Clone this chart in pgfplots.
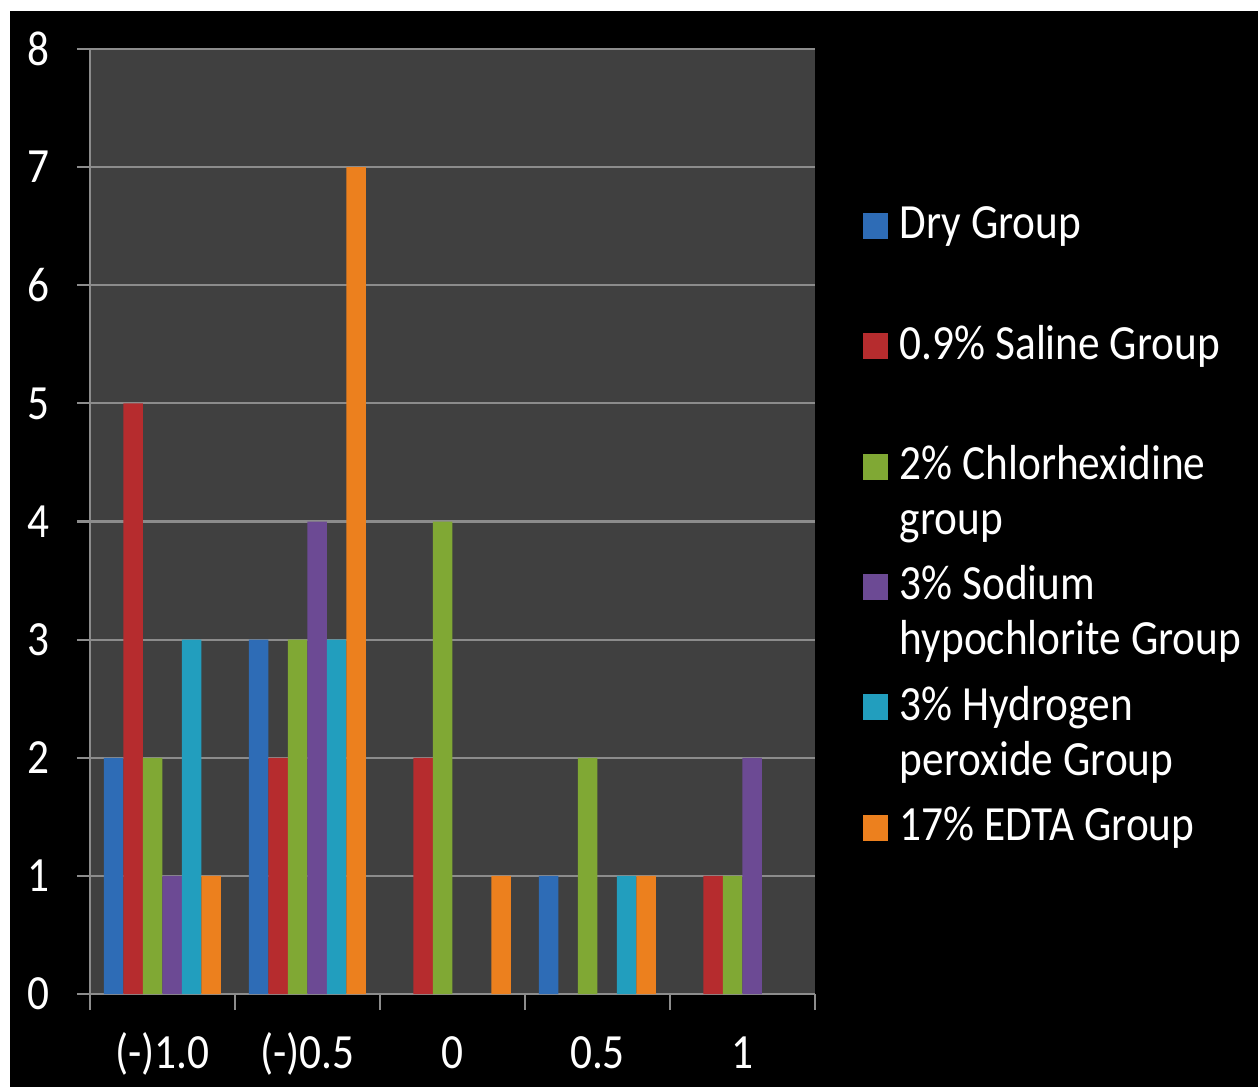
\documentclass[border=0pt]{standalone}
\usepackage{fontspec}
\setmainfont{Carlito}[FakeStretch=0.88]
\usepackage{pgfplots}
\pgfplotsset{compat=1.18}

\definecolor{plotbg}{RGB}{64,64,64}
\definecolor{gridc}{RGB}{140,140,140}
\definecolor{cDry}{RGB}{46,108,182}
\definecolor{cSal}{RGB}{182,44,46}
\definecolor{cChl}{RGB}{128,168,52}
\definecolor{cSod}{RGB}{108,74,148}
\definecolor{cHyd}{RGB}{34,158,190}
\definecolor{cEdt}{RGB}{236,128,30}

% legend texts as top-aligned tabulars, so every row has the same height
\newcommand{\oneline}[1]{\begin{tabular}[t]{@{}l@{}}#1\end{tabular}}
\newcommand{\twoline}[2]{\begin{tabular}[t]{@{}l@{}}#1\\#2\end{tabular}}

\pgfplotsset{
  bar/.style={draw=none, fill=#1,
    legend image code/.code={\fill[##1] (0mm,0mm) rectangle (2.5mm,2.6mm);}},
}

\begin{document}
\fontsize{14pt}{15.65pt}\selectfont
\begin{tikzpicture}[font=\fontsize{14pt}{15.65pt}\selectfont]
\useasboundingbox (0,0) rectangle (125.8mm,-108.7mm);
\fill[white] (0,0) rectangle (125.8mm,-108.7mm);
\fill[black] (1.0mm,-1.1mm) rectangle (125.8mm,-108.7mm);
\begin{axis}[
    at={(9mm,-99.4mm)}, anchor=south west,
    scale only axis, width=72.5mm, height=94.5mm,
    ybar=0pt, bar width=1.95mm,
    xmin=-0.5, xmax=4.5, ymin=0, ymax=8,
    xtick={0,...,4}, xticklabels={(-)1.0,(-)0.5,0,0.5,1},
    minor xtick={-0.5,0.5,...,4.5},
    ytick={0,...,8},
    axis x line*=bottom, axis y line*=left,
    axis line style={draw=gridc, line width=0.6pt, -},
    axis background/.style={fill=plotbg},
    ymajorgrids, y grid style={gridc, line width=0.6pt},
    tick align=outside,
    major tick length=1.3mm, minor tick length=1.6mm,
    major x tick style={draw=none},
    minor x tick style={draw=gridc, line width=0.6pt},
    major y tick style={draw=gridc, line width=0.6pt},
    tick label style={text=white},
    /pgf/number format/assume math mode=true,
    yticklabel style={anchor=east, inner sep=0pt, xshift=-2.7mm},
    xticklabel style={anchor=base, inner sep=0pt, yshift=-6.1mm},
    legend style={at={(1.066,0.840)}, anchor=north west, draw=none, fill=none,
      text=white, inner sep=0pt, outer sep=0pt, row sep=7.45mm, column sep=1.2mm,
      cells={anchor=base west}, nodes={inner sep=0pt}},
]
% zero counts are left out
\addplot[bar=cDry] coordinates {(0,2) (1,3) (3,1)};
\addlegendentry{\oneline{Dry Group}}
\addplot[bar=cSal] coordinates {(0,5) (1,2) (2,2) (4,1)};
\addlegendentry{\oneline{0.9\% Saline Group}}
\addplot[bar=cChl] coordinates {(0,2) (1,3) (2,4) (3,2) (4,1)};
\addlegendentry{\twoline{2\% Chlorhexidine}{group}}
\addplot[bar=cSod] coordinates {(0,1) (1,4) (4,2)};
\addlegendentry{\twoline{3\% Sodium}{hypochlorite Group}}
\addplot[bar=cHyd] coordinates {(0,3) (1,3) (3,1)};
\addlegendentry{\twoline{3\% Hydrogen}{peroxide Group}}
\addplot[bar=cEdt] coordinates {(0,1) (1,7) (2,1) (3,1)};
\addlegendentry{\oneline{17\% EDTA Group}}
\end{axis}
\end{tikzpicture}
\end{document}
